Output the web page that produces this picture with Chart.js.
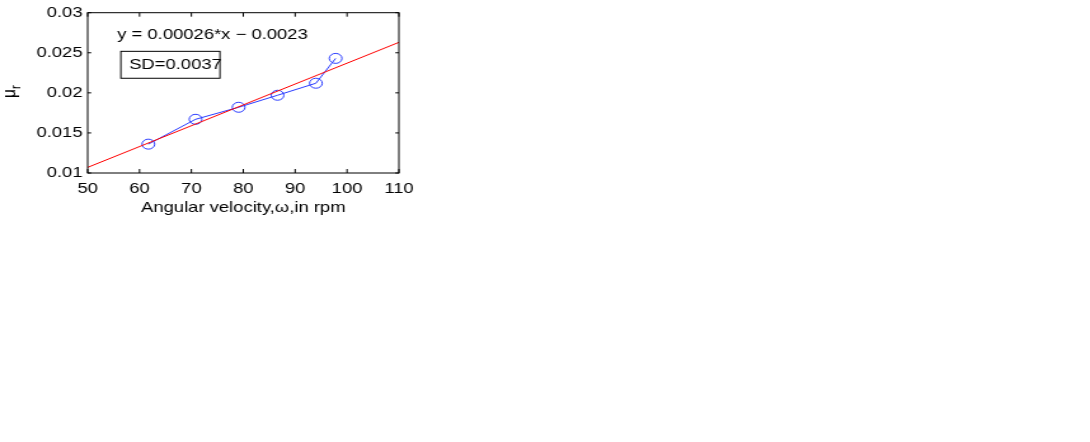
<!DOCTYPE html>
<html><head><meta charset="utf-8">
<script src="https://cdn.jsdelivr.net/npm/chart.js@4/dist/chart.umd.min.js"></script>
<style>
html,body{margin:0;padding:0;background:#fff;overflow:hidden}
#wrap{width:1090px;height:442px;overflow:hidden;background:#fff}
canvas{transform:scaleX(1.27040);transform-origin:0 0;display:block}
</style>
</head><body><div id="wrap"><canvas id="c" width="858" height="442"></canvas></div>
<script>
// ---- data ----
const speedRpm = [61.7, 70.8, 79.1, 86.6, 94.0, 97.8];
const muR      = [0.0136, 0.0167, 0.0182, 0.0197, 0.0212, 0.0243];
const fitX     = [50, 110];
const fitY     = [0.0107, 0.0263];
const xTicks   = [50, 60, 70, 80, 90, 100, 110];
const yTicks   = [0.01, 0.015, 0.02, 0.025, 0.03];
const fitEquation = 'y = 0.00026*x \u2212 0.0023';
const sdLabel     = 'SD=0.0037';
const xTitle      = 'Angular velocity,\u03C9,in rpm';
const yTitleMain  = '\u03BC';
const yTitleSub   = 'r';

const FONT = 'Liberation Sans, Arial, Helvetica, sans-serif';
const FS = 14.5;
Chart.defaults.font.family = FONT;
Chart.defaults.font.size = FS;
Chart.defaults.color = '#000';

const toXY = (xs, ys) => xs.map((x, i) => ({x: x, y: ys[i]}));

const decor = {
  id: 'decor',
  afterDraw(chart) {
    const {ctx, chartArea: a, scales: {x, y}} = chart;
    ctx.save();
    ctx.strokeStyle = '#000';
    ctx.lineWidth = 1;
    // box
    ctx.strokeRect(a.left, a.top, a.right - a.left, a.bottom - a.top);
    // inward ticks on four sides
    ctx.beginPath();
    xTicks.forEach(v => {
      const p = x.getPixelForValue(v);
      ctx.moveTo(p, a.bottom); ctx.lineTo(p, a.bottom - 4);
      ctx.moveTo(p, a.top); ctx.lineTo(p, a.top + 4);
    });
    yTicks.forEach(v => {
      const p = y.getPixelForValue(v);
      ctx.moveTo(a.left, p); ctx.lineTo(a.left + 2.8, p);
      ctx.moveTo(a.right, p); ctx.lineTo(a.right - 2.8, p);
    });
    ctx.stroke();

    // equation text
    ctx.fillStyle = '#000';
    ctx.font = FS + 'px ' + FONT;
    ctx.textBaseline = 'middle';
    ctx.textAlign = 'left';
    ctx.fillText(fitEquation, x.getPixelForValue(55.7), y.getPixelForValue(0.02718));

    // SD box
    const bx0 = x.getPixelForValue(56.4), bx1 = x.getPixelForValue(75.5);
    const by0 = y.getPixelForValue(0.02518), by1 = y.getPixelForValue(0.02182);
    ctx.strokeRect(bx0, by0, bx1 - bx0, by1 - by0);
    ctx.fillText(sdLabel, x.getPixelForValue(58.0), (by0 + by1) / 2 + 0.5);

    // y-axis title  mu_r  (rotated)
    ctx.translate(7.3, (a.top + a.bottom) / 2);
    ctx.rotate(-Math.PI / 2);
    ctx.textAlign = 'left';
    ctx.font = '15.5px ' + FONT;
    const w = ctx.measureText(yTitleMain).width;
    ctx.fillText(yTitleMain, -5.2, 0);
    ctx.font = '11.5px ' + FONT;
    ctx.fillText(yTitleSub, -5.2 + w, 5.5);
    ctx.restore();
  }
};

new Chart(document.getElementById('c'), {
  type: 'scatter',
  data: {
    datasets: [
      {
        label: 'fit',
        data: toXY(fitX, fitY),
        showLine: true,
        borderColor: '#ff0000',
        borderWidth: 1,
        pointRadius: 0,
        fill: false,
        order: 0
      },
      {
        label: 'mu_r',
        data: toXY(speedRpm, muR),
        showLine: true,
        borderColor: '#2a3cff',
        borderWidth: 1,
        pointRadius: 5,
        pointBorderWidth: 1,
        pointBorderColor: '#2a3cff',
        pointBackgroundColor: 'rgba(0,0,0,0)',
        pointStyle: 'circle',
        fill: false,
        order: 1
      }
    ]
  },
  options: {
    responsive: false,
    animation: false,
    devicePixelRatio: 1,
    layout: { padding: { top: 10, right: 544, bottom: 225, left: 0 } },
    plugins: { legend: { display: false }, tooltip: { enabled: false } },
    scales: {
      x: {
        type: 'linear', min: 50, max: 110,
        afterBuildTicks: s => { s.ticks = xTicks.map(v => ({value: v})); },
        afterFit: s => { s.height = 44; },
        grid: { display: false, drawTicks: false },
        border: { display: false },
        ticks: { padding: 7, maxRotation: 0, callback: v => String(v) },
        title: { display: true, text: xTitle, padding: { top: 0, bottom: 0 }, font: { size: FS } }
      },
      y: {
        type: 'linear', min: 0.01, max: 0.03,
        afterBuildTicks: s => { s.ticks = yTicks.map(v => ({value: v})); },
        afterFit: s => { s.width = 69; },
        grid: { display: false, drawTicks: false },
        border: { display: false },
        ticks: { padding: 4, callback: v => String(v) }
      }
    }
  },
  plugins: [decor]
});
</script>
</body></html>
